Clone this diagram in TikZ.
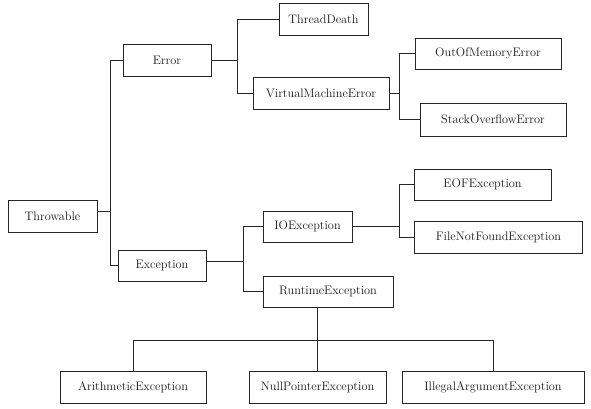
\documentclass[tikz,border=0pt]{standalone}
\usepackage{fontspec}
\setmainfont{Latin Modern Roman}
\begin{document}
\begin{tikzpicture}[x=1pt,y=-1pt,
  box/.style={draw=black!85, line width=0.75pt, inner sep=0pt, minimum height=32pt, text=black!90, font=\fontsize{12.3}{14}\selectfont},
  link/.style={draw=black!85, line width=0.75pt}]
\useasboundingbox (0,0) rectangle (591,409);
\node[box, minimum width=89pt] (thr) at (52.5,216) {Throwable};
\node[box, minimum width=88pt] (err) at (167,60) {Error};
\node[box, minimum width=88pt, minimum height=31pt] (exc) at (162,265.5) {Exception};
\node[box, minimum width=89pt] (td) at (323.5,19) {ThreadDeath};
\node[box, minimum width=136pt] (vme) at (321,93) {VirtualMachineError};
\node[box, minimum width=146pt, minimum height=31pt] (oom) at (488,53.5) {OutOfMemoryError};
\node[box, minimum width=146pt, minimum height=33pt] (soe) at (493,119.5) {StackOverflowError};
\node[box, minimum width=137pt, minimum height=31pt] (eof) at (482.5,184.5) {EOFException};
\node[box, minimum width=168pt] (fnf) at (498.5,237) {FileNotFoundException};
\node[box, minimum width=89pt, minimum height=31pt] (ioe) at (307.5,226.5) {IOException};
\node[box, minimum width=130pt, minimum height=31pt] (rte) at (328,291.5) {RuntimeException};
\node[box, minimum width=146pt] (ari) at (133,387) {ArithmeticException};
\node[box, minimum width=137pt] (npe) at (317.5,387) {NullPointerException};
\node[box, minimum width=182pt] (iae) at (493,387) {IllegalArgumentException};
% Throwable
\draw[link] ([yshift=5pt]thr.east) -- ++(13,0) coordinate (b1);
\draw[link] (err.west) -- (err.west -| b1) |- (exc.west);
% Error
\draw[link] (err.east) -- ++(26,0) coordinate (b2);
\draw[link] (td.west) -- (td.west -| b2) |- (vme.west);
% VME
\draw[link] (vme.east) -- ++(10,0) coordinate (b3);
\draw[link] (oom.west) -- (oom.west -| b3) |- (soe.west);
% Exception
\draw[link] ([yshift=4.5pt]exc.east) -- ++(37,0) coordinate (b4);
\draw[link] (ioe.west) -- (ioe.west -| b4) |- (rte.west);
% IOException
\draw[link] (ioe.east) -- ++(47,0) coordinate (b5);
\draw[link] (eof.west) -- (eof.west -| b5) |- (fnf.west);
% RuntimeException
\draw[link] (npe.north |- rte.south) -- (npe.north);
\coordinate (b6) at (0,340);
\draw[link] (ari.north) -- (ari.north |- b6) -- (iae.north |- b6) -- (iae.north);
\end{tikzpicture}
\end{document}
